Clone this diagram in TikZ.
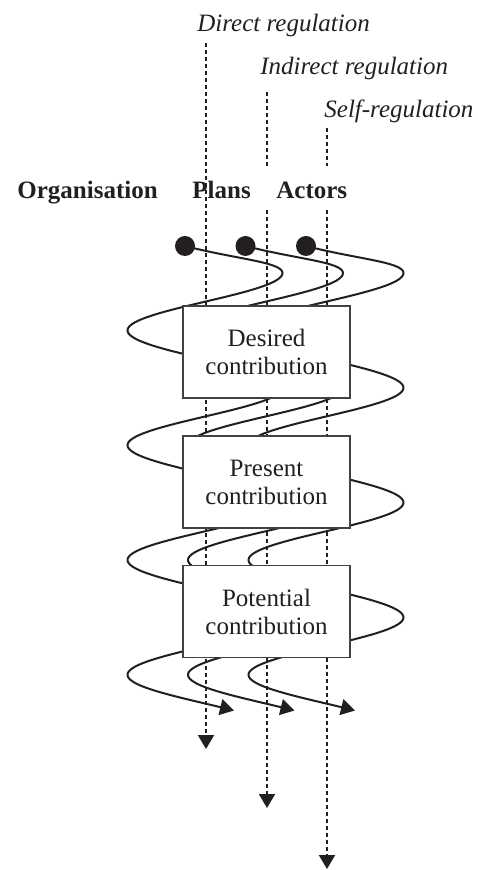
\documentclass[tikz,border=0pt]{standalone}
\usepackage{fontspec}
\setmainfont{Liberation Serif}
\usetikzlibrary{arrows.meta}
\definecolor{ink}{RGB}{35,31,32}
\tikzset{
	coil/.style={line width=1pt, color=ink},
	guide/.style={line width=1pt, color=ink, dash pattern=on 2.2pt off 1.3pt},
	tipend/.style={-{Triangle[width=8pt,length=7pt]}},
	stage/.style={draw=ink!85, line width=0.9pt, fill=white, minimum width=83.5pt, minimum height=46pt, inner sep=0pt, align=center, text=ink, font=\fontsize{12.5}{14}\selectfont},
	blob/.style={circle, fill=ink, minimum size=10pt, inner sep=0pt},
	head/.style={anchor=base west, inner sep=0pt, text=ink, font=\fontsize{12.5}{14}\selectfont\bfseries},
	mode/.style={anchor=base west, inner sep=0pt, text=ink, font=\fontsize{12.5}{14}\selectfont\itshape},
}

\begin{document}
\begin{tikzpicture}[x=0.5pt, y=-0.5pt]
		%%%%% START %%%%%
		\useasboundingbox (0,0) rectangle (477,870);
		
		\node[mode] (direct) at (197,32) {Direct regulation};
		\node[mode] (indirect) at (260,75) {Indirect regulation};
		\node[mode] (self) at (324,118) {Self-regulation};
		
		\node[head] (org) at (17,199) {Organisation};
		\node[head] (plans) at (192,199) {Plans};
		\node[head] (actors) at (276,199) {Actors};
		
		\coordinate (g1a) at (206,43);
		\coordinate (g1z) at (206,749);
		\coordinate (g2a) at (267,92);
		\coordinate (g2b) at (267,166);
		\coordinate (g2c) at (267,210);
		\coordinate (g2z) at (267,808);
		\coordinate (g3a) at (327,128);
		\coordinate (g3b) at (327,166);
		\coordinate (g3c) at (327,210);
		\coordinate (g3z) at (327,869);
		
		\draw[guide,tipend] (g1a) -- (g1z);
		\draw[guide] (g2a) -- (g2b);
		\draw[guide,tipend] (g2c) -- (g2z);
		\draw[guide] (g3a) -- (g3b);
		\draw[guide,tipend] (g3c) -- (g3z);
		
		\node[blob] (d1) at (185,246) {};
		\node[blob] (d2) at (245.5,246) {};
		\node[blob] (d3) at (306,246) {};
		
		% coils round each axis
		\foreach \ax/\dt in {205/d1, 265.5/d2, 326/d3} {
			\draw[coil,tipend] (\dt.center) .. controls +(50,13) and (\ax+77.5,262) .. (\ax+77.5,273)
				-- plot[domain=0:1372, samples=250, variable=\t] ({\ax+77.5*cos(\t)}, {273+0.3189*\t});
		}
		
		\node[stage] (want) at (266.5,352) {Desired\\contribution};
		\node[stage] (now) at (266.5,482) {Present\\contribution};
		\node[stage] (could) at (266.5,611.5) {Potential\\contribution};
		
		%%%%% END %%%%%
	\end{tikzpicture}
\end{document}
